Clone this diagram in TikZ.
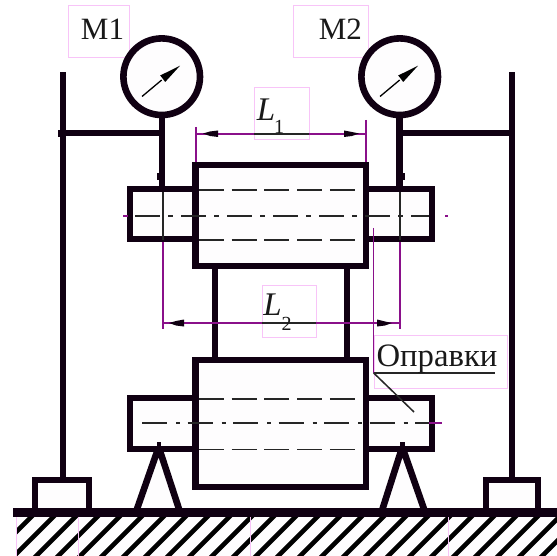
\documentclass[tikz,border=0pt]{standalone}
\usepackage{fontspec}
\setmainfont{Liberation Serif}
\definecolor{inkc}{HTML}{100012}
\definecolor{plum}{HTML}{8A108A}
\definecolor{pinkb}{HTML}{F8C4F8}
\definecolor{paper}{HTML}{FEFDFE}
\tikzset{
  heavy/.style={draw=inkc,line width=#1},
  heavy/.default=6.6pt,
  solid box/.style={heavy,fill=paper},
  hidden line/.style={draw=black!85,line width=1.6pt,dash pattern=on 25pt off 7.7pt},
  axis one/.style={draw=black!85,line width=1.6pt,dash pattern=on 25pt off 8pt on 5pt off 8pt},
  axis two/.style={draw=black!85,line width=1.6pt,dash pattern=on 25pt off 9pt on 4pt off 7.5pt},
  thin plum/.style={draw=plum,line width=1.5pt},
  thin ink/.style={draw=black!85,line width=1.5pt},
  tag box/.style={draw=pinkb,line width=1pt,fill=white},
  big label/.style={anchor=base,inner sep=0pt,text=black!90,font=\fontsize{31}{31}\selectfont},
  index label/.style={anchor=base,inner sep=0pt,text=black!90,font=\fontsize{20}{20}\selectfont},
  hatch line/.style={draw=black,line width=4.6pt},
  blob/.style={fill=inkc,draw=none},
}
\begin{document}
\begin{tikzpicture}[x=1pt,y=-1pt]
\useasboundingbox (0,0) rectangle (557,556);
\fill[white] (0,0) rectangle (557,556);
% tag boxes
\draw[tag box] (68,6) rectangle (129,58);
\draw[tag box] (293,6) rectangle (368,58);
\draw[tag box] (254,88) rectangle (309,140);
\draw[tag box] (262,285) rectangle (316,337);
\draw[tag box] (374,335) rectangle (507,388);
% ground hatch
\fill[paper] (16,516) rectangle (557,556);
\begin{scope}
\clip (16,516) rectangle (557,556);
\foreach \c in {526,548,...,1120}{
  \draw[hatch line] (\c-516+10,516-10) -- (\c-556-10,556+10);
}
\end{scope}
\foreach \x in {16,78,250,448}{
  \draw[pinkb,line width=1pt] (\x,517) -- (\x,556);
}
% stand poles
\draw[heavy] (63,72.5) -- (63,478);
\draw[heavy] (512,72.5) -- (512,478);
\draw[heavy] (59,133) -- (162,133);
\draw[heavy] (400,133) -- (512,133);
\fill[inkc] (58,130) rectangle (63,137);
% stems
\draw[heavy] (162,112) -- (162,186);
\draw[heavy] (399.5,112) -- (399.5,186);
\fill[inkc] (157,173) rectangle (162,180);
\fill[inkc] (400,173) rectangle (405,180);
% posts
\draw[heavy] (215,266) -- (215,360);
\draw[heavy] (347,266) -- (347,360);
% bases
\draw[solid box] (35,509) -- (35,480) -- (89,480) -- (89,509);
\draw[solid box] (486,509) -- (486,480) -- (538,480) -- (538,509);
% prisms
\draw[solid box,line join=miter] (137,509) -- (158.7,447) -- (179,509);
\draw[solid box,line join=miter] (382.5,509) -- (402.3,447) -- (424,509);
% ground bar
\draw[heavy=8.4pt] (13,512.5) -- (557,512.5);
% shafts upper
\draw[solid box] (130,189) rectangle (200,239);
\draw[solid box] (360,189) rectangle (432,239);
% shafts lower
\draw[solid box] (130,398) rectangle (200,449);
\draw[solid box] (360,398) rectangle (432,449);
% journal boxes
\draw[solid box] (195.5,165) rectangle (366,266);
\draw[solid box] (195.5,360) rectangle (366,487);
% prism apex over lower shaft
\fill[inkc] (156.5,442) rectangle (161,450);
\fill[inkc] (400,442) rectangle (404.5,450);
% hidden lines
\draw[hidden line] (199,190) -- (355,190);
\draw[hidden line] (199,240) -- (355,240);
\draw[hidden line] (199,399) -- (355,399);
\draw[hidden line] (199,449.5) -- (355,449.5);
% axes
\draw[axis one] (135,216) -- (429,216);
\draw[axis two] (142,423) -- (442,423);
\draw[plum,line width=1.5pt] (123,216) -- (128,216);
\draw[plum,line width=1.5pt] (445,216) -- (448,216);
\draw[plum,line width=1.5pt] (429,423) -- (442,423);
% sight lines through upper shaft
\draw[thin ink] (163,192) -- (163,240);
\draw[thin plum] (163,242) -- (163,329);
\draw[thin ink] (400,192) -- (400,240);
\draw[thin plum] (400,242) -- (400,329);
% gauges
\draw[solid box] (161.7,76.7) circle (38.3);
\draw[solid box] (399.7,76.7) circle (38.3);
\foreach \cx in {161.7,399.7}{
  \begin{scope}[shift={(\cx,0)}]
    \draw[black,line width=1.3pt] (-19.7,96.5) -- (0,80);
    \fill[black] (18.3,65.7) -- (-1.5,75.5) -- (0.5,78) -- (3.5,82) -- cycle;
  \end{scope}
}
% dimension L1
\draw[thin plum] (196,127) -- (196,162);
\draw[thin plum] (366,120) -- (366,162);
\draw[thin plum] (196,134) -- (254,134);
\draw[thin plum] (309,134) -- (366,134);
\draw[thin ink] (254,134) -- (309,134);
\path[blob] (203,133.5) -- (210,131.5) -- (218,130.5) -- (218,137) -- (210,136) -- cycle;
\path[blob] (359,133.5) -- (352,132) -- (344,130.5) -- (344,137) -- (352,136) -- cycle;
% dimension L2
\draw[thin plum] (163,323) -- (262,323);
\draw[thin plum] (316,323) -- (400,323);
\draw[thin ink] (262,323) -- (316,323);
\path[blob] (169,323) -- (176,321) -- (184,319.5) -- (184,326.5) -- (176,325.5) -- cycle;
\path[blob] (392,323) -- (385,321.5) -- (377,319.5) -- (377,326.5) -- (385,325.5) -- cycle;
% leader
\draw[thin plum] (373.7,228) -- (373.7,373);
\draw[thin ink] (373.7,373) -- (495,373);
\draw[thin ink] (373.7,373) -- (414,412);
% labels
\node[big label] (m1) at (102.5,39.3) {М1};
\node[big label] (m2) at (340.3,39.3) {М2};
\node[big label,font=\fontsize{33}{33}\selectfont\itshape] (l1) at (266,120.7) {L};
\node[index label] (l1i) at (279,134) {1};
\node[big label,font=\fontsize{33}{33}\selectfont\itshape] (l2) at (272.5,315.7) {L};
\node[index label] (l2i) at (286.7,330) {2};
\node[big label,font=\fontsize{32.7}{33}\selectfont] (opr) at (437,366.5) {Оправки};
\end{tikzpicture}
\end{document}
